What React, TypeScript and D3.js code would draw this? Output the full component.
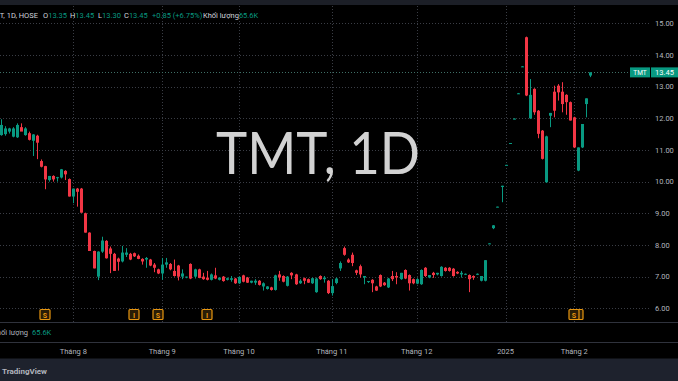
import React from "react";
import * as d3 from "d3";

const opens = [11.47,11.50,11.58,11.42,11.40,11.72,11.47,11.53,11.29,11.45,10.65,10.49,10.05,10.18,10.13,10.13,10.34,10.08,9.53,9.78,9.78,9.00,8.39,7.81,7.00,7.79,8.13,7.89,7.72,7.57,
7.48,7.69,7.72,7.74,7.66,7.56,7.54,7.54,7.38,7.23,7.10,7.38,7.40,7.18,7.35,7.00,6.97,7.40,7.00,7.23,7.00,6.97,6.90,7.04,6.90,7.00,6.90,6.90,6.94,6.79,
7.04,6.97,6.81,6.81,6.87,6.69,6.61,6.66,6.58,7.07,7.02,6.71,7.12,7.07,6.79,6.95,6.92,6.79,6.51,7.02,6.92,6.87,6.48,6.80,7.26,7.90,7.54,7.69,7.20,7.33,
6.97,6.84,6.90,6.69,7.05,6.81,6.66,7.02,7.02,6.92,7.21,7.05,6.92,6.78,6.76,7.28,6.97,7.12,7.07,7.02,7.28,7.28,7.25,7.15,7.07,7.07,7.05,7.02,7.07,6.87,
6.87,8.03,8.53,9.19,9.83,10.52,11.20,11.97,12.77,13.62,14.56,12.00,12.93,12.24,11.61,9.98,12.08,12.84,13.03,12.84,12.74,12.51,12.03,10.35,11.08,12.45,13.35];
const highs = [11.97,11.75,11.70,11.72,11.84,11.84,11.72,11.58,11.50,11.48,10.70,10.50,10.18,10.20,10.15,10.40,10.36,10.10,9.78,9.80,9.80,9.02,8.40,7.82,7.80,8.26,8.15,7.95,7.75,7.60,
7.97,7.90,7.75,7.76,7.70,7.58,7.62,7.56,7.43,7.25,7.59,7.59,7.43,7.54,7.37,7.23,7.00,7.42,7.25,7.25,7.12,7.18,7.10,7.28,6.98,7.02,6.97,7.02,6.96,7.01,
7.06,6.99,6.87,6.92,6.89,6.82,6.70,6.68,7.06,7.18,7.04,7.02,7.14,7.09,6.92,6.97,6.94,6.97,6.97,7.04,7.02,6.89,6.92,6.97,7.48,7.95,7.58,7.76,7.22,7.38,
7.02,6.86,6.92,6.71,7.07,6.83,6.96,7.18,7.14,7.12,7.23,7.07,6.94,6.95,7.23,7.30,7.05,7.15,7.12,7.33,7.30,7.30,7.27,7.17,7.18,7.10,7.07,7.04,7.10,7.02,
7.52,8.05,8.63,9.21,9.87,10.53,11.22,12.00,12.80,13.65,14.58,13.24,12.95,12.26,11.63,11.45,12.17,13.03,13.08,13.14,12.76,12.53,12.05,11.08,11.82,12.63,13.45];
const lows = [11.45,11.45,11.52,11.40,11.38,11.60,11.45,11.30,10.81,10.71,10.45,9.76,10.00,10.00,10.00,10.10,10.05,9.53,9.32,9.21,9.02,8.39,7.81,7.26,6.89,7.75,7.57,7.11,7.18,7.19,
7.45,7.62,7.52,7.62,7.55,7.38,7.28,7.33,7.14,7.08,6.90,7.28,7.20,7.00,6.88,6.92,6.95,6.92,6.94,6.95,6.90,6.88,6.88,6.92,6.88,6.84,6.88,6.84,6.77,6.77,
6.82,6.80,6.79,6.74,6.72,6.56,6.59,6.56,6.56,6.87,6.82,6.69,6.92,6.74,6.77,6.76,6.80,6.77,6.49,6.90,6.81,6.45,6.40,6.76,7.18,7.66,7.43,7.33,7.05,6.97,
6.76,6.80,6.51,6.55,6.67,6.71,6.64,6.86,6.76,6.90,6.92,6.56,6.76,6.76,6.74,6.99,6.95,6.96,7.04,7.00,7.16,7.16,7.00,7.08,6.97,7.05,6.51,6.90,7.05,6.85,
6.85,8.03,8.50,9.19,9.35,10.52,11.20,11.97,12.77,13.62,12.70,11.98,12.11,11.37,10.70,9.96,11.72,12.03,12.56,12.19,12.11,11.93,11.06,10.33,11.06,12.03,13.30];
const closes = [11.79,11.68,11.68,11.68,11.79,11.58,11.68,11.32,11.49,11.23,10.47,10.07,10.18,10.07,10.14,10.39,10.23,9.53,9.78,9.68,9.02,8.39,7.81,7.26,7.79,8.14,7.58,7.72,7.18,7.47,
7.76,7.76,7.54,7.64,7.56,7.48,7.59,7.35,7.28,7.10,7.38,7.45,7.23,7.02,7.00,7.10,7.00,6.94,7.23,6.96,6.92,6.90,7.07,6.94,6.97,6.86,6.95,6.95,6.79,6.99,
6.84,6.81,6.87,6.87,6.74,6.79,6.69,6.58,7.04,6.97,6.84,7.00,7.04,6.76,6.87,6.87,6.81,6.95,6.94,6.92,6.97,6.48,6.70,6.94,7.43,7.69,7.45,7.43,7.12,7.07,
7.02,6.86,6.79,6.56,6.69,6.73,6.94,6.92,6.97,7.12,6.94,6.79,6.79,6.92,7.21,7.02,7.05,7.05,7.12,7.31,7.18,7.18,7.02,7.10,7.12,7.09,6.92,6.97,7.09,7.02,
7.52,8.05,8.62,9.21,9.87,10.53,11.22,11.99,12.79,13.64,12.72,12.74,12.19,11.51,10.72,11.43,12.17,12.24,12.82,12.45,12.51,11.93,11.08,11.08,11.82,12.63,13.45];

const priceTicks = [6, 7, 8, 9, 10, 11, 12, 13, 14, 15];
const monthIndex = [18, 40, 59, 82, 103, 125, 142];
const monthLabels = ["Tháng 8", "Tháng 9", "Tháng 10", "Tháng 11", "Tháng 12", "2025", "Tháng 2"];
const markerIndex = [11, 33, 39, 51, 143, 142];
const markerLetters = ["S", "I", "S", "I", "", "S"];
const lastPrice = 13.45;

const UP = "#089981";
const DOWN = "#f23645";
const TXT = "#b2b5be";
const FONT = "Roboto, 'Noto Sans', sans-serif";

export default function App() {
  const W = 678, H = 381;
  const x = d3.scaleLinear().domain([0, 146]).range([0.6, 590.4]);
  const y = d3.scaleLinear().domain([6, 15]).range([308.3, 23.3]);
  const gridColor = "#3a3d45";
  const bw = 3;

  return (
    <svg width={W} height={H} style={{ position: "absolute", left: 0, top: 0, display: "block" }} fontFamily={FONT}>
      <rect width={W} height={H} fill="#000" />
      <rect width={W} height={5} fill="#1c1f27" />
      {priceTicks.map((t) => (
        <line key={"h" + t} x1={0} x2={650} y1={Math.round(y(t)) + 0.5} y2={Math.round(y(t)) + 0.5}
          stroke={gridColor} strokeDasharray="1 2" />
      ))}
      {monthIndex.map((m) => (
        <line key={"v" + m} x1={Math.round(x(m)) + 0.5} x2={Math.round(x(m)) + 0.5} y1={6} y2={322}
          stroke={gridColor} strokeDasharray="1 2" />
      ))}
      <text x={318} y={174} textAnchor="middle" fontSize={58} fill="#d2d2d2"
        fontFamily="Lato, 'Open Sans', sans-serif" textLength={204} lengthAdjust="spacingAndGlyphs">TMT, 1D</text>
      <line x1={0} x2={630} y1={Math.round(y(lastPrice)) + 0.5} y2={Math.round(y(lastPrice)) + 0.5}
        stroke="#3f6f66" strokeDasharray="1 2" />
      {closes.map((c, i) => {
        const o = opens[i];
        const up = c >= o;
        const col = up ? UP : DOWN;
        const cx = Math.round(x(i));
        const top = y(Math.max(o, c));
        const bot = y(Math.min(o, c));
        return (
          <g key={i}>
            <line x1={cx + 0.5} x2={cx + 0.5} y1={y(highs[i])} y2={y(lows[i])} stroke={col} strokeWidth={1} />
            <rect x={cx - 1} y={top} width={bw} height={Math.max(1, bot - top)} fill={col} />
          </g>
        );
      })}
      {markerIndex.map((m, k) => (
        <g key={"mk" + k}>
          <rect x={Math.round(x(m)) - 5} y={309.5} width={10} height={10} fill="#2a1d06" stroke="#e8960f" strokeWidth={1.2} rx={1} />
          <text x={Math.round(x(m))} y={317.5} textAnchor="middle" fontSize={7} fontWeight="bold" fill="#e8960f">{markerLetters[k]}</text>
        </g>
      ))}
      {priceTicks.map((t) => (
        <text key={"pl" + t} x={655} y={y(t) + 2.6} fontSize={7.5} fill={TXT}>{t.toFixed(2)}</text>
      ))}
      <rect x={630} y={y(lastPrice) - 5} width={20} height={10} fill={UP} />
      <rect x={651} y={y(lastPrice) - 5} width={27} height={10} fill={UP} />
      <text x={640} y={y(lastPrice) + 2.5} textAnchor="middle" fontSize={6.5} fill="#fff">TMT</text>
      <text x={664.5} y={y(lastPrice) + 2.6} textAnchor="middle" fontSize={7.5} fill="#fff">{lastPrice.toFixed(2)}</text>
      <line x1={0} x2={W} y1={322.5} y2={322.5} stroke="#2f323c" />
      <line x1={0} x2={W} y1={342.5} y2={342.5} stroke="#2f323c" />
      <text x={28} y={334.5} textAnchor="end" fontSize={7.5} fill={TXT}>Khối lượng</text>
      <text x={32} y={334.5} fontSize={7.5} fill={UP}>65.6K</text>
      {monthIndex.map((m, k) => (
        <text key={"ml" + m} x={x(m)} y={354} textAnchor="middle" fontSize={7.5} fill={TXT}>{monthLabels[k]}</text>
      ))}
      <rect x={0} y={358.5} width={W} height={H - 358.5} fill="#1e222d" />
      <text x={2} y={373.5} fontSize={8} fontWeight="bold" fill="#b2b5be">TradingView</text>
      <g fontSize={7.5}>
        <text x={38} y={17.5} textAnchor="end" fill="#d1d4dc">TMT, 1D, HOSE</text>
        <text x={43} y={17.5} fill="#d1d4dc">O<tspan fill={UP}>13.35</tspan></text>
        <text x={70} y={17.5} fill="#d1d4dc">H<tspan fill={UP}>13.45</tspan></text>
        <text x={98} y={17.5} fill="#d1d4dc">L<tspan fill={UP}>13.30</tspan></text>
        <text x={124} y={17.5} fill="#d1d4dc">C<tspan fill={UP}>13.45</tspan></text>
        <text x={152} y={17.5} fill={UP}>+0.85 (+6.75%)</text>
        <text x={203} y={17.5} fill="#d1d4dc">Khối lượng<tspan fill={UP}>65.6K</tspan></text>
      </g>
    </svg>
  );
}
